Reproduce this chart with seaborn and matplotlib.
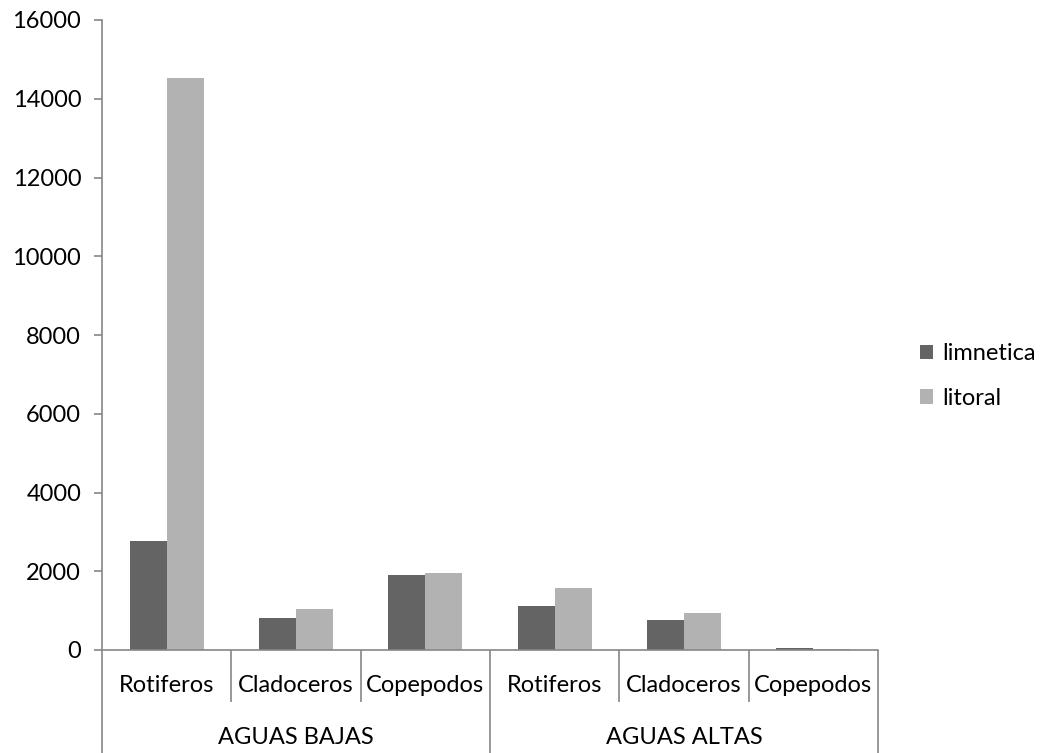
import matplotlib
matplotlib.use("Agg")
import matplotlib.pyplot as plt
import matplotlib.transforms as mtransforms
import seaborn as sns
import pandas as pd

# Data
groups = ["AGUAS BAJAS", "AGUAS ALTAS"]
taxa = ["Rotiferos", "Cladoceros", "Copepodos"]
series = ["limnetica", "litoral"]
limnetica = [2760, 810, 1910, 1110, 765, 45]
litoral = [14530, 1035, 1945, 1580, 950, 35]
yticks = [0, 2000, 4000, 6000, 8000, 10000, 12000, 14000, 16000]

colors = {"limnetica": "#646464", "litoral": "#b2b2b2"}
axis_grey = "#868686"
font = ["Lato", "DejaVu Sans"]
fs = 17

keys = [f"{g}|{t}" for g in groups for t in taxa]
rows = []
for i, k in enumerate(keys):
    rows.append({"cat": k, "serie": "limnetica", "valor": limnetica[i]})
    rows.append({"cat": k, "serie": "litoral", "valor": litoral[i]})
df = pd.DataFrame(rows)

sns.set_theme(style="white")
plt.rcParams["font.family"] = font

fig = plt.figure(figsize=(10.44, 7.53), dpi=100)
ax = fig.add_axes([102 / 1044, 1 - 650 / 753, (878 - 102) / 1044, (650 - 20) / 753])

sns.barplot(data=df, x="cat", y="valor", hue="serie", order=keys,
            hue_order=series, palette=colors, width=0.572, gap=0,
            saturation=1, linewidth=0, ax=ax, legend=True)

ax.set_xlim(-0.5, len(keys) - 0.5)
ax.set_ylim(0, 16000)
ax.set_yticks(yticks)
ax.set_yticklabels([str(v) for v in yticks], fontsize=fs, color="#000000")
ax.tick_params(axis="y", which="both", direction="out", length=6, width=1.2,
               color=axis_grey, pad=9, left=True)
ax.set_xticks([])
ax.set_xlabel("")
ax.set_ylabel("")

for side in ["top", "right"]:
    ax.spines[side].set_visible(False)
for side in ["left", "bottom"]:
    ax.spines[side].set_color(axis_grey)
    ax.spines[side].set_linewidth(1.2)

# Multi-level category axis
trans = mtransforms.blended_transform_factory(ax.transData, ax.transAxes)
h = 630.0
short = -52 / h
full = -105 / h
n = len(taxa)
for i in range(len(keys) + 1):
    x = i - 0.5
    ybot = full if i % n == 0 else short
    ax.plot([x, x], [0, ybot], transform=trans, color=axis_grey, lw=1.2,
            clip_on=False, solid_capstyle="butt")
for i, k in enumerate(keys):
    ax.text(i, -35 / h, k.split("|")[1], transform=trans, ha="center",
            va="center", fontsize=fs, color="#000000")
for gi, g in enumerate(groups):
    ax.text(gi * n + (n - 1) / 2, -87 / h, g, transform=trans, ha="center",
            va="center", fontsize=fs, color="#000000")

leg = ax.legend(loc="center left", bbox_to_anchor=(1.054, 0.435), frameon=False,
                fontsize=fs, handlelength=0.55, handleheight=0.55,
                handletextpad=0.4, labelspacing=1.0, borderaxespad=0,
                borderpad=0)
for t in leg.get_texts():
    t.set_color("#000000")

fig.savefig("out.png", dpi=100, facecolor="white")
